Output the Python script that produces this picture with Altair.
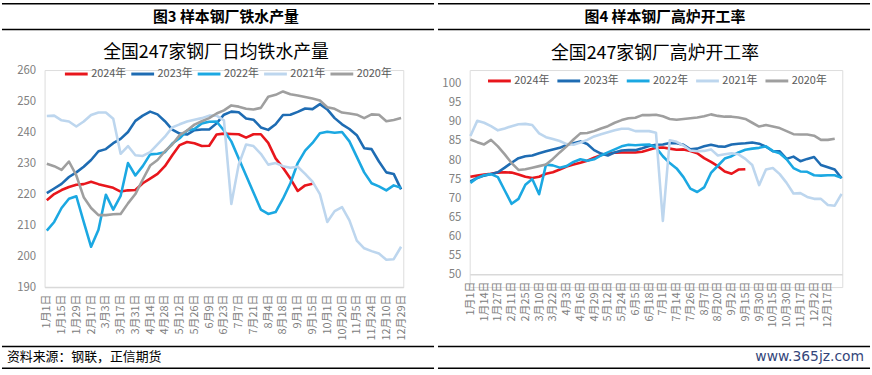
import altair as alt
import pandas as pd

FONT = "Noto Sans CJK SC"
years = ["2024年", "2023年", "2022年", "2021年", "2020年"]
colors = ["#E8161C", "#1E6CB3", "#1BA8E2", "#BDD6EE", "#9F9F9F"]

# ---------- left panel: daily hot metal output ----------
left_labels = ["1月1日", "1月15日", "1月29日", "2月17日", "3月3日", "3月17日", "3月31日", "4月14日",
               "4月28日", "5月12日", "5月26日", "6月9日", "6月23日", "7月7日", "7月21日", "8月4日",
               "8月18日", "9月1日", "9月15日", "10月1日", "10月20日", "11月5日", "11月24日",
               "12月10日", "12月29日"]
left_between = ["1月8日", "1月22日", "2月5日", "2月24日", "3月10日", "3月24日", "4月7日", "4月21日",
                "5月5日", "5月19日", "6月2日", "6月16日", "6月30日", "7月14日", "7月28日", "8月11日",
                "8月25日", "9月8日", "9月22日", "10月13日", "10月27日", "11月15日", "12月1日",
                "12月20日"]

iron_2024 = [218.0, 220.0, 221.3, 222.3, 223.0, 223.2, 224.0, 223.2, 222.6, 222.0, 220.8, 221.2,
             221.3, 223.5, 225.0, 226.5, 229.0, 232.5, 235.8, 236.8, 236.4, 235.5, 235.6, 239.2,
             239.5, 239.4, 239.3, 238.2, 239.3, 239.3, 236.5, 231.5, 228.5, 225.0, 221.0, 222.8,
             223.3]
iron_2023 = [220.3, 221.8, 223.3, 225.5, 227.0, 228.8, 231.0, 233.8, 234.5, 236.4, 237.8, 240.0,
             243.6, 245.3, 246.6, 245.7, 243.5, 240.8, 239.5, 239.2, 240.6, 240.8, 240.8, 242.8,
             245.6, 246.6, 246.4, 244.4, 244.0, 241.5, 240.7, 242.5, 245.5, 245.6, 246.5, 247.6,
             247.4, 249.0, 247.3, 244.5, 242.5, 241.0, 239.0, 234.8, 234.5, 230.5, 227.0, 226.5,
             221.5]
iron_2022 = [208.2, 211.0, 215.5, 218.5, 219.3, 211.0, 203.0, 208.5, 219.8, 215.0, 219.4, 230.0,
             226.0, 229.0, 232.8, 233.0, 233.5, 236.3, 238.0, 240.5, 241.0, 242.8, 243.3, 243.4,
             240.5, 237.0, 231.5, 226.0, 220.5, 215.0, 213.6, 214.2, 218.5, 223.5, 230.0, 234.0,
             236.5, 239.6, 240.1, 239.8, 240.0, 237.0, 232.0, 227.0, 223.5, 222.5, 221.2, 222.8,
             222.0]
iron_2021 = [245.2, 245.3, 243.8, 243.4, 241.8, 243.4, 245.5, 246.3, 246.3, 244.3, 233.0, 235.5,
             232.5, 232.3, 233.5, 236.0, 238.5, 241.5, 242.5, 243.4, 244.0, 244.5, 245.3, 245.3,
             243.8, 216.8, 229.5, 236.0, 235.5, 233.0, 229.5, 230.0, 229.0, 228.5, 228.8, 226.5,
             224.0, 220.0, 211.0, 214.5, 215.8, 211.5, 205.0, 202.5, 201.6, 200.8, 198.8, 199.0,
             203.0]
iron_2020 = [229.8, 229.0, 227.8, 230.5, 226.0, 219.0, 215.5, 213.2, 213.2, 213.5, 213.6, 217.0,
             220.0, 224.7, 229.2, 231.0, 233.8, 236.0, 239.0, 240.5, 242.4, 243.5, 244.5, 246.0,
             247.0, 248.6, 248.2, 247.5, 247.3, 247.8, 251.4, 252.0, 253.1, 252.2, 251.8, 251.3,
             250.8, 250.2, 248.0, 247.5, 246.3, 246.0, 245.6, 244.5, 245.7, 245.6, 243.5, 243.9,
             244.5]

# ---------- right panel: blast furnace operating rate ----------
right_labels = ["1月1日", "1月14日", "1月27日", "2月11日", "2月25日", "3月10日", "3月22日", "4月3日",
                "4月16日", "4月29日", "5月12日", "5月24日", "6月5日", "6月18日", "7月1日", "7月14日",
                "7月26日", "8月7日", "8月20日", "9月2日", "9月15日", "9月30日", "10月15日",
                "10月30日", "11月17日", "12月2日", "12月17日"]
right_between = ["1月7日", "1月20日", "2月3日", "2月18日", "3月3日", "3月16日", "3月28日", "4月9日",
                 "4月22日", "5月6日", "5月18日", "5月30日", "6月11日", "6月24日", "7月7日", "7月20日",
                 "8月1日", "8月13日", "8月26日", "9月8日", "9月22日", "10月8日", "10月22日",
                 "11月8日", "11月24日", "12月9日", "12月24日", "12月31日"]

rate_2024 = [75.6, 75.9, 76.2, 76.4, 76.7, 76.8, 76.7, 76.2, 75.6, 75.3, 75.6, 76.4, 76.8, 77.5,
             78.3, 78.8, 79.3, 79.8, 80.6, 81.3, 81.7, 81.9, 82.0, 82.0, 82.0, 82.2, 82.7, 83.2,
             83.3, 83.0, 82.7, 82.8, 82.4, 81.8, 80.5, 79.5, 78.4, 77.0, 76.4, 77.5, 77.6]
rate_2023 = [74.4, 75.3, 75.9, 76.3, 76.8, 78.0, 79.3, 80.5, 81.0, 81.2, 81.8, 82.3, 82.8, 83.2,
             84.0, 84.4, 84.9, 84.2, 82.6, 81.7, 81.2, 82.0, 82.5, 82.6, 82.6, 83.1, 83.7, 84.0,
             84.1, 84.5, 84.4, 84.0, 82.8, 83.0, 83.6, 84.0, 83.6, 83.5, 84.1, 84.3, 84.4, 84.6,
             84.3, 83.5, 82.3, 82.3, 80.3, 80.9, 79.7, 80.3, 80.8, 78.7, 78.1, 77.5, 75.2]
rate_2022 = [74.0, 75.3, 76.0, 76.3, 75.5, 72.0, 68.5, 69.8, 73.5, 75.0, 71.0, 78.8, 78.6, 78.0,
             78.4, 79.5, 80.2, 79.8, 80.2, 81.2, 82.0, 82.8, 83.6, 84.0, 83.9, 84.0, 84.1, 83.3,
             81.0, 79.2, 77.8, 75.5, 72.5, 71.6, 72.8, 76.6, 78.5, 80.4, 81.0, 82.0, 82.7, 83.0,
             83.2, 83.6, 82.4, 81.8, 80.2, 77.9, 77.0, 76.9, 76.0, 75.9, 76.0, 76.0, 75.3]
rate_2021 = [86.3, 90.3, 89.8, 88.9, 87.8, 88.3, 88.9, 89.4, 89.5, 89.2, 87.0, 86.0, 85.5, 85.0,
             84.2, 84.0, 84.6, 85.3, 86.2, 86.8, 87.3, 87.8, 88.2, 88.2, 87.6, 87.6, 87.6, 87.2,
             64.0, 85.2, 84.8, 83.8, 82.5, 82.3, 82.4, 82.8, 81.2, 81.5, 81.8, 81.5, 80.3, 78.7,
             73.4, 77.5, 77.9, 76.3, 74.0, 71.2, 71.3, 70.3, 69.8, 69.8, 68.2, 68.0, 71.1]
rate_2020 = [85.4, 84.7, 84.1, 85.3, 83.6, 81.5, 79.2, 77.4, 77.6, 78.0, 78.4, 78.8, 80.3, 82.0,
             83.6, 85.4, 87.0, 87.1, 87.6, 88.3, 88.9, 89.8, 90.5, 91.0, 91.1, 91.8, 91.8, 91.9,
             91.5, 90.8, 90.6, 90.8, 91.0, 91.2, 91.5, 92.0, 91.6, 91.4, 91.4, 91.2, 90.8, 89.8,
             88.8, 89.2, 88.8, 88.4, 87.6, 86.8, 86.7, 86.7, 86.4, 85.3, 85.3, 85.6]

left_weeks = []
for i in range(len(left_between)):
    left_weeks += [left_labels[i], left_between[i]]
left_weeks.append(left_labels[-1])

right_weeks = []
for i in range(len(right_labels)):
    right_weeks += [right_labels[i], right_between[i]]
right_weeks.append(right_between[-1])


def long_frame(weeks, series):
    rows = []
    for yr, vals in zip(years, series):
        for j, v in enumerate(vals):
            rows.append({"week": weeks[j], "idx": j, "year": yr, "value": v})
    return pd.DataFrame(rows)


df_left = long_frame(left_weeks, [iron_2024, iron_2023, iron_2022, iron_2021, iron_2020])
df_right = long_frame(right_weeks, [rate_2024, rate_2023, rate_2022, rate_2021, rate_2020])
one = pd.DataFrame({"k": [0]})

LABEL_GRAY = "#808080"
PLOT_H = 219  # both plot areas share top (y=68) and height in page pixels


def lines(df, weeks, shown, ydom, yvals, pad, legx, legy, colpad, xoffset):
    return alt.Chart(df).mark_line(strokeWidth=2.6, strokeJoin="round").encode(
        x=alt.X("week:O", sort=weeks,
                scale=alt.Scale(type="point", padding=pad),
                axis=alt.Axis(values=shown, title=None, labelAngle=270, labelFont=FONT,
                              labelFontSize=11, labelColor=LABEL_GRAY, labelPadding=7,
                              ticks=False, domainColor="#D9D9D9", domainWidth=1.5,
                              labelOverlap=False, grid=False, offset=xoffset)),
        y=alt.Y("value:Q", scale=alt.Scale(domain=ydom, nice=False, zero=False),
                axis=alt.Axis(values=yvals, title=None, labelFont=FONT, labelFontSize=11.5,
                              labelColor=LABEL_GRAY, labelPadding=9, ticks=False,
                              domain=False, grid=False)),
        color=alt.Color("year:N", scale=alt.Scale(domain=years, range=colors),
                        legend=alt.Legend(orient="none", legendX=legx, legendY=legy,
                                          direction="horizontal", columns=5, title=None,
                                          symbolType="stroke", symbolStrokeWidth=3,
                                          symbolSize=529, labelFont=FONT, labelFontSize=11,
                                          labelColor="#595959", labelOffset=2,
                                          columnPadding=colpad, padding=0)),
        detail="year:N",
        order="idx:Q",
    )


def hrule(x1, x2, y, w=1.5):
    return alt.Chart(one).mark_rule(color="#000000", strokeWidth=w).encode(
        x=alt.value(x1), x2=alt.value(x2), y=alt.value(y))


def label(text, x, y, size, weight="normal", align="center", color="#000000", font=FONT):
    return alt.Chart(one).mark_text(text=text, fontSize=size, fontWeight=weight, align=align,
                                    baseline="middle", color=color, font=font).encode(
        x=alt.value(x), y=alt.value(y))


OY = 68  # common plot top in page pixels

# left panel: plot origin at (43, 68)
OXL = 43
left = alt.layer(
    lines(df_left, left_weeks, left_labels, [190, 260], [190, 200, 210, 220, 230, 240, 250, 260],
          0.3, 19, -9, -2, 0),
    hrule(0 - OXL, 436 - OXL, 1 - OY),
    hrule(0 - OXL, 436 - OXL, 27 - OY),
    hrule(0 - OXL, 436 - OXL, 347 - OY),
    hrule(0 - OXL, 436 - OXL, 369 - OY),
    label("图3 样本钢厂铁水产量", 226 - OXL, 14 - OY, 15, weight="bold"),
    label("全国247家钢厂日均铁水产量", 216 - OXL, 51 - OY, 18),
    label("资料来源：钢联，正信期货", 5 - OXL, 358 - OY, 13, align="left"),
).properties(width=362, height=PLOT_H)

# right panel: plot origin at (468, 68); value 100 sits at y=82 and 50 at y=274
OXR = 468
r_px_per_unit = (274 - 82) / 50.0
r_top = 100 + (82 - OY) / r_px_per_unit
r_bottom = 50 - (OY + PLOT_H - 274) / r_px_per_unit
right = alt.layer(
    lines(df_right, right_weeks, right_labels, [r_bottom, r_top],
          [50, 55, 60, 65, 70, 75, 80, 85, 90, 95, 100], 0.1, 17, -2, 1, 274 - (OY + PLOT_H)),
    hrule(436 - OXR, 872 - OXR, 1 - OY),
    hrule(436 - OXR, 872 - OXR, 27 - OY),
    hrule(436 - OXR, 872 - OXR, 347 - OY),
    hrule(436 - OXR, 872 - OXR, 369 - OY),
    label("图4 样本钢厂高炉开工率", 665 - OXR, 14 - OY, 15, weight="bold"),
    label("全国247家钢厂高炉开工率", 655 - OXR, 52 - OY, 18),
    label("www.365jz.com", 866 - OXR, 358 - OY, 14, align="right", color="#34467A",
          font="DejaVu Sans"),
).properties(width=376, height=PLOT_H)

chart = alt.hconcat(left, right, spacing=0).resolve_scale(
    x="independent", y="independent", color="independent"
).resolve_legend(color="independent").properties(
    padding=0, autosize=alt.AutoSizeParams(type="pad")
).configure_view(stroke=None).configure(background="#FFFFFF")

chart.save("out.html", embed_options={"renderer": "svg", "actions": False})
